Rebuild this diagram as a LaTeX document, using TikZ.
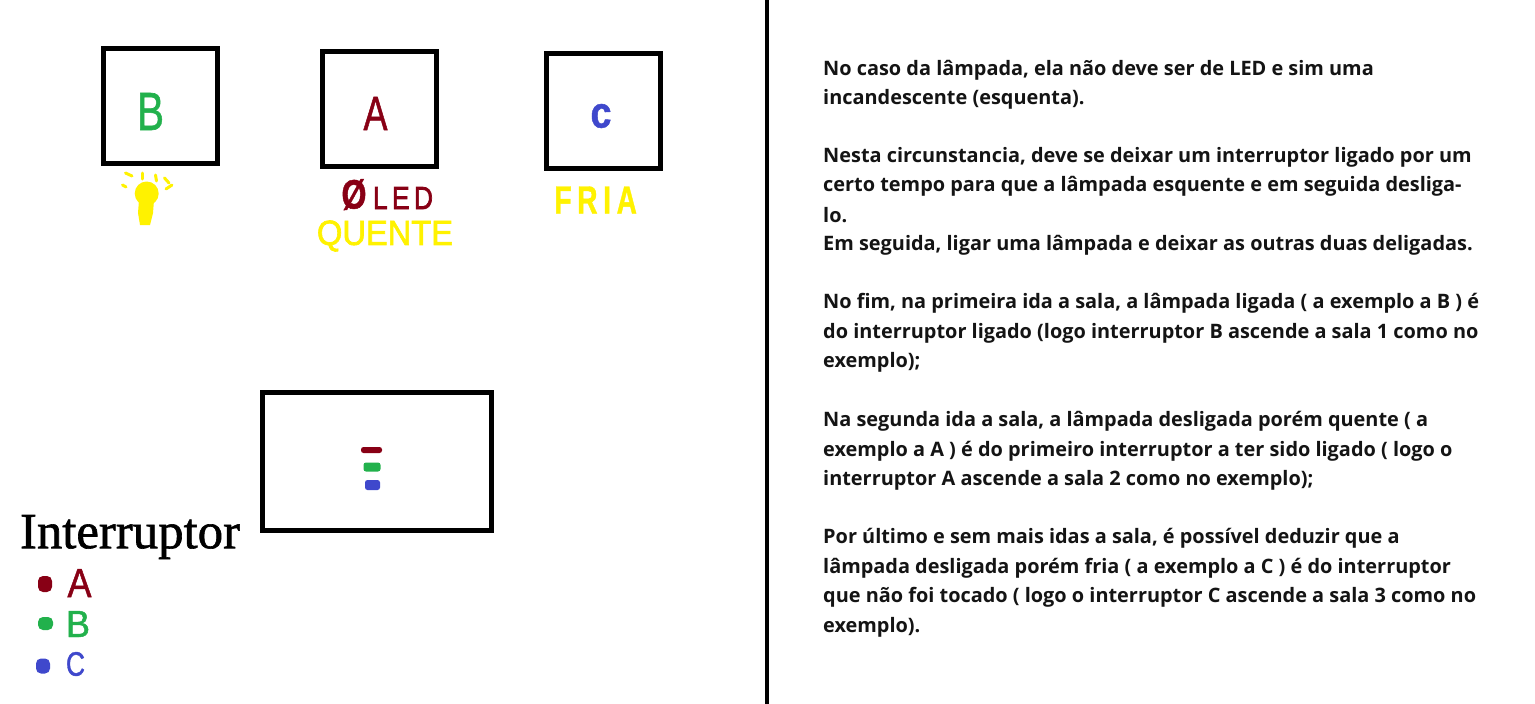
\documentclass[tikz,border=0pt]{standalone}
\usepackage{fontspec}
\usepackage{graphicx}
\setmainfont{Open Sans}
\newfontfamily\handfont[FakeBold=1.2]{Liberation Sans}
\newfontfamily\handserif[FakeBold=1.2]{Liberation Serif}
\definecolor{hred}{HTML}{880015}
\definecolor{hgreen}{HTML}{22B14C}
\definecolor{hblue}{HTML}{3F48CC}
\definecolor{hyellow}{HTML}{FFF200}
\newcommand{\fitbox}[3]{\resizebox*{#1pt}{#2pt}{#3}}
\tikzset{
  room/.style={draw=black,line width=5pt,minimum width=114pt,minimum height=115pt,inner sep=0pt},
  hand/.style={inner sep=0pt,font=\handfont},
  para/.style={anchor=west,inner sep=0pt,font=\fontsize{19.9pt}{24pt}\selectfont\bfseries,text=black!92},
  ray/.style={draw=hyellow,line width=3pt,line cap=round},
  dot/.style={inner sep=0pt,rectangle,rounded corners=2.5pt,fill=#1},
  blob/.style={inner sep=0pt,rectangle,rounded corners=5pt,fill=#1},
}
\begin{document}
\begin{tikzpicture}[x=1pt,y=-1pt]
\useasboundingbox (0,0) rectangle (1535,704);
\fill[white] (0,0) rectangle (1535,704);
% divider
\coordinate (divtop) at (767,0);
\coordinate (divbot) at (767,704);
\draw[line width=4pt] (divtop) -- (divbot);
% rooms
\node[room] (roomB) at (160.5,106) {};
\node[room] (roomA) at (379.5,109) {};
\node[room] (roomC) at (603.5,111) {};
\node[hand,text=hgreen] (letterB) at (150.5,111.5) {\fitbox{27}{37}{B}};
\node[hand,text=hred] (letterA) at (375.5,113.5) {\fitbox{24}{33}{A}};
\node[hand,text=hblue] (letterC) at (601,116) {\fitbox{21}{24}{\textbf{c}}};
% bulb
\fill[hyellow] (146.7,193.5) circle (12);
\fill[hyellow] (139,200) -- (154,200) -- (153,213) -- (150,225) -- (140,225) -- (138,213) -- cycle;
\draw[ray] (125.5,173) -- (132,176);
\draw[ray] (142.7,173) -- (142.7,179);
\draw[ray] (155.5,175) -- (156.5,181);
\draw[ray] (164.5,178) -- (169,183);
\draw[ray] (166,189) -- (172,185);
\draw[ray] (122.5,185) -- (126,187);
% labels under rooms
\node[hand,text=hred] (noled) at (354,194.5) {\fitbox{25}{31}{\textbf{Ø}}};
\node[hand,text=hred] (led) at (403,198) {\fitbox{60}{22}{\addfontfeature{FakeBold=2.5}L\,E\,D}};
\node[hand,text=hyellow] (quente) at (385,236) {\fitbox{136}{31}{\addfontfeature{FakeBold=2}QUENTE}};
\node[hand,text=hyellow] (fria) at (598.5,200) {\fitbox{88}{27}{\addfontfeature{LetterSpace=20}\textbf{FRIA}}};
% switch box
\node[draw=black,line width=5pt,minimum width=229pt,minimum height=138pt,inner sep=0pt] (switchbox) at (377,461.5) {};
\node[dot=hred,minimum width=21pt,minimum height=6pt] (swA) at (371.5,450) {};
\node[dot=hgreen,minimum width=17pt,minimum height=9pt] (swB) at (372,467) {};
\node[dot=hblue,minimum width=15pt,minimum height=10pt] (swC) at (372.5,485) {};
% legend
\node[inner sep=0pt,font=\handserif] (legend) at (130,537) {\fitbox{220}{44}{Interruptor}};
\node[blob=hred,minimum width=14pt,minimum height=16pt] (dotA) at (45,584) {};
\node[blob=hgreen,minimum width=15pt,minimum height=13pt] (dotB) at (45.5,623.5) {};
\node[blob=hblue,minimum width=14pt,minimum height=15pt] (dotC) at (43,666) {};
\node[hand,text=hred] (legA) at (79.5,583) {\fitbox{24}{28}{A}};
\node[hand,text=hgreen] (legB) at (78,624) {\fitbox{24}{26}{B}};
\node[hand,text=hblue] (legC) at (75.5,664) {\fitbox{19}{24}{C}};
% paragraph lines
\node[para] (l1) at (823,70) {No caso da lâmpada, ela não deve ser de LED e sim uma};
\node[para] (l2) at (823,99) {incandescente (esquenta).};
\node[para] (l3) at (823,157) {Nesta circunstancia, deve se deixar um interruptor ligado por um};
\node[para] (l4) at (823,186) {certo tempo para que a lâmpada esquente e em seguida desliga-};
\node[para] (l5) at (823,215) {lo.};
\node[para] (l6) at (823,245) {Em seguida, ligar uma lâmpada e deixar as outras duas deligadas.};
\node[para] (l7) at (823,303) {No fim, na primeira ida a sala, a lâmpada ligada ( a exemplo a B ) é};
\node[para] (l8) at (823,333) {do interruptor ligado (logo interruptor B ascende a sala 1 como no};
\node[para] (l9) at (823,362) {exemplo);};
\node[para] (l10) at (823,421) {Na segunda ida a sala, a lâmpada desligada porém quente ( a};
\node[para] (l11) at (823,451) {exemplo a A ) é do primeiro interruptor a ter sido ligado ( logo o};
\node[para] (l12) at (823,480) {interruptor A ascende a sala 2 como no exemplo);};
\node[para] (l13) at (823,538) {Por último e sem mais idas a sala, é possível deduzir que a};
\node[para] (l14) at (823,568) {lâmpada desligada porém fria ( a exemplo a C ) é do interruptor};
\node[para] (l15) at (823,597) {que não foi tocado ( logo o interruptor C ascende a sala 3 como no};
\node[para] (l16) at (823,627) {exemplo).};
\end{tikzpicture}
\end{document}
